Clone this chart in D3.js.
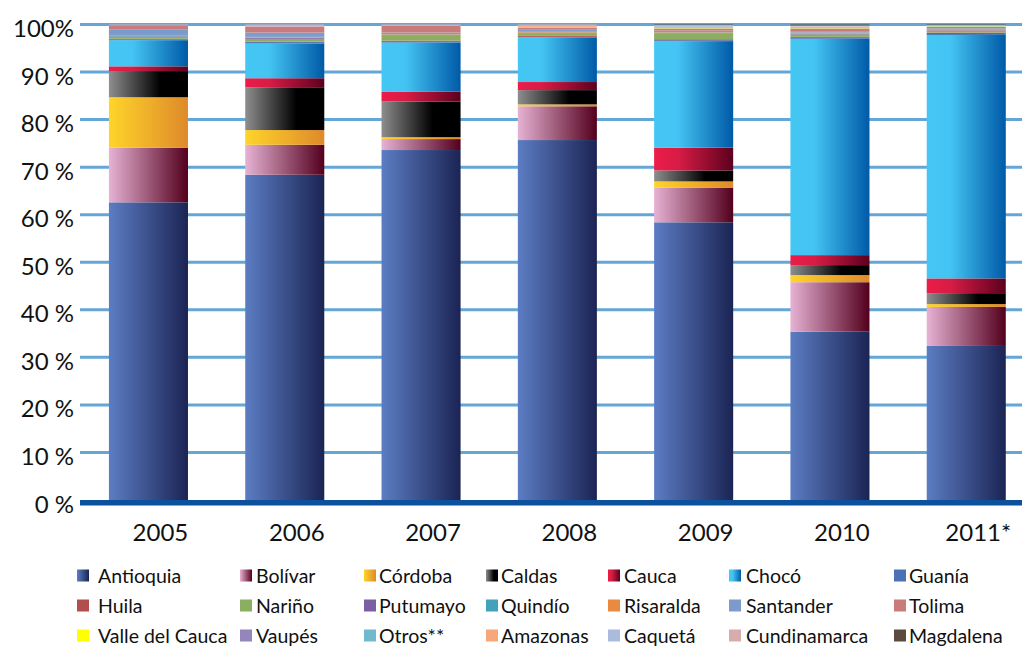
<!DOCTYPE html>
<html><head><meta charset="utf-8">
<script src="https://cdn.jsdelivr.net/npm/d3@7"></script>
<style>html,body{margin:0;padding:0;background:#fff;overflow:hidden}</style>
</head><body><svg id="c" width="1022" height="647"></svg>
<script>
// ---- data ----
const years = ["2005","2006","2007","2008","2009","2010","2011*"];
const seriesNames = ["Antioquia","Bolívar","Córdoba","Caldas","Cauca","Chocó","Guanía",
  "Huila","Nariño","Putumayo","Quindío","Risaralda","Santander","Tolima",
  "Valle del Cauca","Vaupés","Otros**","Amazonas","Caquetá","Cundinamarca","Magdalena"];
const antioquia    = [62.6, 68.4, 73.6, 75.7, 58.4, 35.4, 32.4];
const bolivar      = [11.5,  6.3,  2.3,  7.1,  7.3, 10.4,  8.2];
const cordoba      = [10.6,  3.1,  0.4,  0.4,  1.3,  1.5,  0.6];
const caldas       = [ 5.5,  9.0,  7.5,  3.0,  2.3,  2.1,  2.3];
const cauca        = [ 1.0,  1.9,  2.1,  1.7,  4.8,  2.1,  3.1];
const choco        = [ 5.5,  7.3, 10.3,  9.4, 22.4, 45.5, 51.2];
const guania       = [ 0.2,  0.3,  0.3,  0.1,  0.2,  0.2,  0.2];
const huila        = [ 0.1,  0.1,  0.1,  0.2,  0.2,  0.2,  0.3];
const narino       = [ 0.4,  0.6,  1.1,  0.5,  1.2,  0.5,  0.4];
const putumayo     = [ 0.1,  0.2,  0.1,  0.1,  0.1,  0.1,  0.1];
const quindio      = [ 0.1,  0.1,  0.1,  0.1,  0.1,  0.1,  0.0];
const risaralda    = [ 0.2,  0.1,  0.1,  0.3,  0.1,  0.2,  0.1];
const santander    = [ 1.1,  0.9,  0.3,  0.3,  0.3,  0.3,  0.3];
const tolima       = [ 0.8,  1.2,  1.4,  0.4,  0.4,  0.5,  0.3];
const valle        = [ 0.0,  0.0,  0.1,  0.1,  0.1,  0.1,  0.1];
const vaupes       = [ 0.1,  0.1,  0.0,  0.1,  0.1,  0.1,  0.0];
const otros        = [ 0.0,  0.0,  0.0,  0.0,  0.1,  0.1,  0.1];
const amazonas     = [ 0.0,  0.0,  0.0,  0.2,  0.1,  0.1,  0.0];
const caqueta      = [ 0.0,  0.0,  0.0,  0.0,  0.2,  0.1,  0.0];
const cundinamarca = [ 0.2,  0.4,  0.2,  0.3,  0.2,  0.2,  0.2];
const magdalena    = [ 0.0,  0.0,  0.0,  0.0,  0.1,  0.2,  0.1];
const yTicks = [0,10,20,30,40,50,60,70,80,90,100];
const yTickLabels = ["0 %","10 %","20 %","30 %","40 %","50 %","60 %","70 %","80 %","90 %","100%"];

const seriesValues = [antioquia,bolivar,cordoba,caldas,cauca,choco,guania,huila,narino,putumayo,
  quindio,risaralda,santander,tolima,valle,vaupes,otros,amazonas,caqueta,cundinamarca,magdalena];

// ---- styles ----
const gradStops = {
  "Antioquia": [["0%","#5c7dc3"],["100%","#1b2454"]],
  "Bolívar":   [["0%","#e6b2d4"],["100%","#53001c"]],
  "Córdoba":   [["0%","#ffd42a"],["100%","#de8a2a"]],
  "Caldas":    [["0%","#8e8e8e"],["65%","#000000"],["100%","#000000"]],
  "Cauca":     [["0%","#ec1c4a"],["30%","#d81c45"],["100%","#5c001e"]],
  "Chocó":     [["0%","#44c7f4"],["30%","#44c4f2"],["100%","#005aa7"]]
};
const flatColors = {
  "Guanía":"#4a72b4","Huila":"#b24f4e","Nariño":"#8cae60","Putumayo":"#7a60a2",
  "Quindío":"#43a1ba","Risaralda":"#e98a40","Santander":"#7c9bcd","Tolima":"#c97b7b",
  "Valle del Cauca":"#ffff00","Vaupés":"#9486ba","Otros**":"#70b9cf","Amazonas":"#f6a77c",
  "Caquetá":"#a9bcdd","Cundinamarca":"#d9acac","Magdalena":"#5c4a3e"
};

const svg = d3.select("#c");
const defs = svg.append("defs");
seriesNames.forEach((n,i) => {
  if (gradStops[n]) {
    const g = defs.append("linearGradient").attr("id","g"+i)
      .attr("x1","0").attr("x2","1").attr("y1","0").attr("y2","0");
    gradStops[n].forEach(s => g.append("stop").attr("offset",s[0]).attr("stop-color",s[1]));
  }
});
const fillOf = (n,i) => gradStops[n] ? `url(#g${i})` : flatColors[n];

// ---- scales ----
const x = d3.scaleBand().domain(years).range([80.3, 1034.4]).paddingInner(0.42).paddingOuter(0.21);
const y = d3.scaleLinear().domain([0,100]).range([500, 24.5]);

// table
const table = years.map((yr,j) => {
  const o = {year: yr};
  seriesNames.forEach((n,i) => o[n] = seriesValues[i][j]);
  return o;
});
const stack = d3.stack().keys(seriesNames).offset((series, order) => {
  d3.stackOffsetExpand(series, order);
  series.forEach(s => s.forEach(p => { p[0] *= 100; p[1] *= 100; }));
});
const stacked = stack(table);

// gridlines
const grid = svg.append("g");
yTicks.filter(t => t > 0).forEach(t => {
  grid.append("line").attr("x1",80).attr("x2",1022).attr("y1",y(t)).attr("y2",y(t))
    .attr("stroke","#64a7d6").attr("stroke-width",3);
});

// bars
svg.append("g").selectAll("g").data(stacked).join("g")
  .attr("fill",(d,i) => fillOf(d.key,i))
  .selectAll("rect").data(d => d).join("rect")
  .attr("x", d => x(d.data.year))
  .attr("width", x.bandwidth())
  .attr("y", d => y(d[1]))
  .attr("height", d => Math.max(0, y(d[0]) - y(d[1])));

// zero axis
svg.append("line").attr("x1",80).attr("x2",1022).attr("y1",y(0)+2.8).attr("y2",y(0)+2.8)
  .attr("stroke","#0b519d").attr("stroke-width",5.5);

// y labels
const font = "Lato, 'Open Sans', sans-serif";
svg.append("g").selectAll("text").data(yTicks).join("text")
  .attr("x",74).attr("y",d => y(d)+12.5)
  .attr("text-anchor","end").attr("font-family",font).attr("font-size",24).attr("fill","#111")
  .text((d,i) => yTickLabels[i]);

// x labels
svg.append("g").selectAll("text").data(years).join("text")
  .attr("x",d => x(d) + x.bandwidth()/2 + 12).attr("y",541)
  .attr("text-anchor","middle").attr("font-family",font).attr("font-size",24).attr("fill","#111")
  .text(d => d);

// legend
const swX = [77, 240, 364, 486, 608, 729, 894];
const txX = [98, 256, 379, 501, 624, 746, 909];
const rowY = [575.5, 605.5, 635.5];
const leg = svg.append("g");
seriesNames.forEach((n,i) => {
  const c = i % 7, r = Math.floor(i / 7);
  leg.append("rect").attr("x",swX[c]).attr("y",rowY[r]-6).attr("width",12).attr("height",12)
    .attr("fill",fillOf(n,i));
  leg.append("text").attr("x",txX[c]).attr("y",rowY[r]+7)
    .attr("font-family",font).attr("font-size",19.5).attr("fill","#111").text(n);
});
</script></body></html>
